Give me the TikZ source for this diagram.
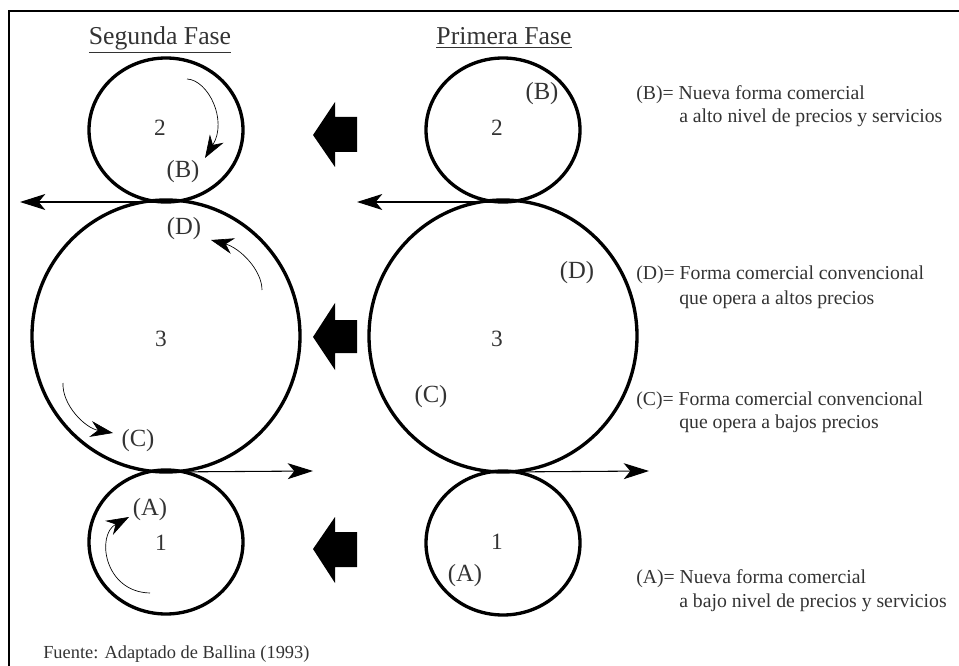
\documentclass[tikz,border=0pt]{standalone}
\usepackage{fontspec}
\setmainfont{Liberation Serif}
\usetikzlibrary{arrows.meta,shapes.geometric}
\definecolor{ink}{gray}{0.2}
\begin{document}
\begin{tikzpicture}[x=0.75pt,y=-0.75pt,
  ring/.style={draw=black, line width=2.5pt, ellipse, inner sep=0pt, outer sep=0pt},
  smallring/.style={ring, minimum width=115.5pt, minimum height=108pt},
  bigring/.style={ring, minimum width=201pt, minimum height=204pt},
  flowarrow/.style={draw=black, line width=0.8pt, -{Stealth[length=19pt,width=12pt,inset=5pt]}},
  curvearrow/.style={draw=black, line width=0.5pt, -{Stealth[length=17pt,width=12pt]}},
  blockarrow/.style={fill=black},
  lbl/.style={text=ink, inner sep=0pt, font=\fontsize{18.5}{20}\selectfont},
  digit/.style={text=ink, inner sep=0pt, font=\fontsize{17.5}{19}\selectfont},
  legendtxt/.style={text=ink, inner sep=0pt, anchor=base west, font=\fontsize{14.8}{17}\selectfont},
  titletxt/.style={text=ink, inner sep=0pt, anchor=base, font=\fontsize{19.3}{21}\selectfont},
  sourcetxt/.style={text=ink, inner sep=0pt, anchor=base west, font=\fontsize{13.8}{15}\selectfont},
]
\useasboundingbox (0,0) rectangle (959,666);
% frame (only top and left edges visible)
\draw[line width=1.3pt] (9,666) -- (9,11) -- (959,11);

% titles
\node[titletxt] (t1) at (160,45) {\underline{Segunda Fase}};
\node[titletxt] (t2) at (504,45) {\underline{Primera Fase}};

% circles, second phase (left)
\node[smallring] (L2) at (166,130) {};
\node[bigring]   (L3) at (166,336) {};
\node[smallring] (L1) at (166,542) {};
% circles, first phase (right)
\node[smallring] (R2) at (503,130) {};
\node[bigring]   (R3) at (503,336) {};
\node[smallring] (R1) at (503,543) {};

% horizontal flow arrows
\coordinate (eLt) at (20,202);
\coordinate (eRt) at (357,202);
\coordinate (eLb) at (313,471);
\coordinate (eRb) at (649,471);
\draw[flowarrow] (L2.south) -- (eLt);
\draw[flowarrow] (R2.south) -- (eRt);
\draw[flowarrow] (L3.south) -- (eLb);
\draw[flowarrow] (R3.south) -- (eRb);

% block arrows
\fill[blockarrow] (313,135) -- (335,102) -- (335,117) -- (357,117) -- (357,152) -- (335,152) -- (335,167) -- cycle;
\fill[blockarrow] (313,337) -- (335,303) -- (335,320) -- (357,320) -- (357,353) -- (335,353) -- (335,370) -- cycle;
\fill[blockarrow] (313,549) -- (335,517) -- (335,532) -- (357,532) -- (357,567) -- (335,567) -- (335,583) -- cycle;

% curved arrows (left)
\coordinate (sB) at (187,79);  \coordinate (eB) at (205,158);
\coordinate (sD) at (262,290); \coordinate (eD) at (211,240);
\coordinate (sC) at (63,383);  \coordinate (eC) at (113,433);
\coordinate (sA) at (150,593); \coordinate (eA) at (129,517);
\draw[curvearrow] (sB) .. controls (208,80) and (228,120) .. (eB);
\draw[curvearrow] (sD) .. controls (262,270) and (240,248) .. (eD);
\draw[curvearrow] (sC) .. controls (62,405) and (85,428) .. (eC);
\draw[curvearrow] (sA) .. controls (104,592) and (96,535) .. (eA);

% labels left
\node[digit] (nL2) at (160,128) {2};
\node[digit] (nL3) at (161,339) {3};
\node[digit] (nL1) at (161,543) {1};
\node[lbl] (lLB) at (183,172) {(B)};
\node[lbl] (lLD) at (184,229) {(D)};
\node[lbl] (lLC) at (138,441) {(C)};
\node[lbl] (lLA) at (150,510) {(A)};
% labels right
\node[digit] (nR2) at (497,128) {2};
\node[digit] (nR3) at (497,339) {3};
\node[digit] (nR1) at (497,542) {1};
\node[lbl] (lRB) at (542,94) {(B)};
\node[lbl] (lRD) at (577,273) {(D)};
\node[lbl] (lRC) at (431,397) {(C)};
\node[lbl] (lRA) at (465,576) {(A)};

% legend
\node[legendtxt] (lgB1) at (636,100) {(B)= Nueva forma comercial};
\node[legendtxt] (lgB2) at (679,123) {a alto nivel de precios y servicios};
\node[legendtxt] (lgD1) at (636,280) {(D)= Forma comercial convencional};
\node[legendtxt] (lgD2) at (679,305) {que opera a altos precios};
\node[legendtxt] (lgC1) at (636,405) {(C)= Forma comercial convencional};
\node[legendtxt] (lgC2) at (679,428) {que opera a bajos precios};
\node[legendtxt] (lgA1) at (636,583) {(A)= Nueva forma comercial};
\node[legendtxt] (lgA2) at (679,607) {a bajo nivel de precios y servicios};

% source
\node[sourcetxt] (src) at (43,658) {Fuente: Adaptado de Ballina (1993)};
\end{tikzpicture}
\end{document}
